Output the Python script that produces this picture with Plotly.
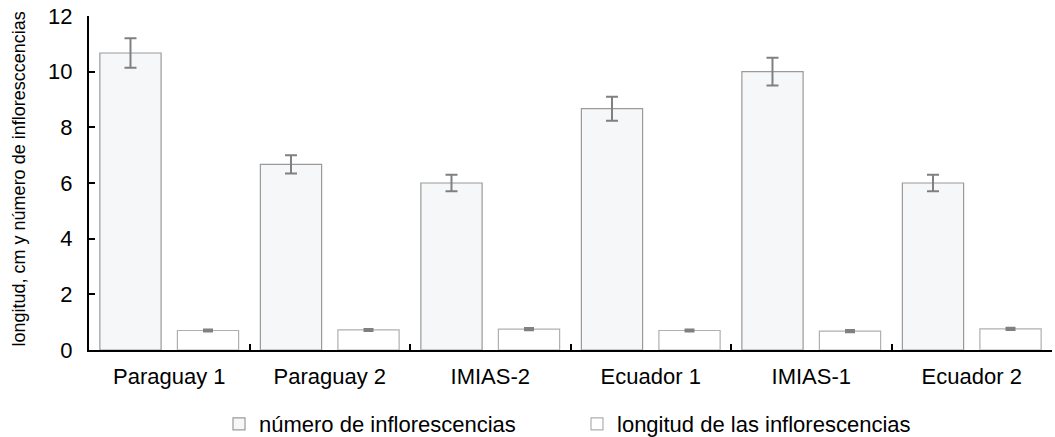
import plotly.graph_objects as go

categories = ["Paraguay 1", "Paraguay 2", "IMIAS-2", "Ecuador 1", "IMIAS-1", "Ecuador 2"]
numero = [10.67, 6.67, 6.0, 8.67, 10.0, 6.0]
numero_err = [0.53, 0.33, 0.3, 0.43, 0.5, 0.3]
longitud = [0.70, 0.72, 0.75, 0.70, 0.68, 0.76]
longitud_err = [0.03, 0.03, 0.03, 0.03, 0.03, 0.03]
y_ticks = [0, 2, 4, 6, 8, 10, 12]

FONT = "Liberation Sans, Arial, sans-serif"

fig = go.Figure()
fig.add_trace(go.Bar(
    x=categories, y=numero, name="número de inflorescencias",
    marker=dict(color="#f6f7f9", line=dict(color="#9a9a9a", width=1.2)),
    error_y=dict(type="data", array=numero_err, color="#808080", thickness=2, width=6),
))
fig.add_trace(go.Bar(
    x=categories, y=longitud, name="longitud de las inflorescencias",
    marker=dict(color="#ffffff", line=dict(color="#b0b0b0", width=1.2)),
    error_y=dict(type="data", array=longitud_err, color="#808080", thickness=2.5, width=5),
))

fig.update_layout(
    width=1055, height=437,
    margin=dict(l=89, r=3, t=16, b=87, autoexpand=False),
    paper_bgcolor="white", plot_bgcolor="white",
    barmode="group", bargap=0.034, bargroupgap=0.21,
    font=dict(family=FONT, size=22, color="#000000"),
    showlegend=True,
    legend=dict(orientation="h", x=0.135, xanchor="left", y=-0.2216, yanchor="middle",
                font=dict(size=22), entrywidth=313, entrywidthmode="pixels",
                traceorder="normal"),
    xaxis=dict(showline=True, linecolor="black", linewidth=2, ticks="inside",
               tickson="boundaries", ticklen=6, tickwidth=2, tickcolor="black",
               showgrid=False, tickfont=dict(size=22), automargin=False,
               ticklabelstandoff=6),
    yaxis=dict(range=[0, 12], tickvals=y_ticks, showline=True, linecolor="black",
               linewidth=2, ticks="inside", ticklen=6, tickwidth=1.5, tickcolor="black",
               showgrid=False, zeroline=False, tickfont=dict(size=22),
               ticklabelstandoff=10, automargin=False, ticklabeloverflow="allow"),
    annotations=[dict(text="longitud, cm y número de infloresccencias", textangle=-90,
                      xref="paper", yref="paper", x=-0.0717, y=0.006,
                      xanchor="center", yanchor="bottom", showarrow=False,
                      font=dict(size=18))],
)

fig.write_html("out.html",
               config={"displayModeBar": False},
               post_script="document.body.style.margin='0';document.body.style.padding='0';")
